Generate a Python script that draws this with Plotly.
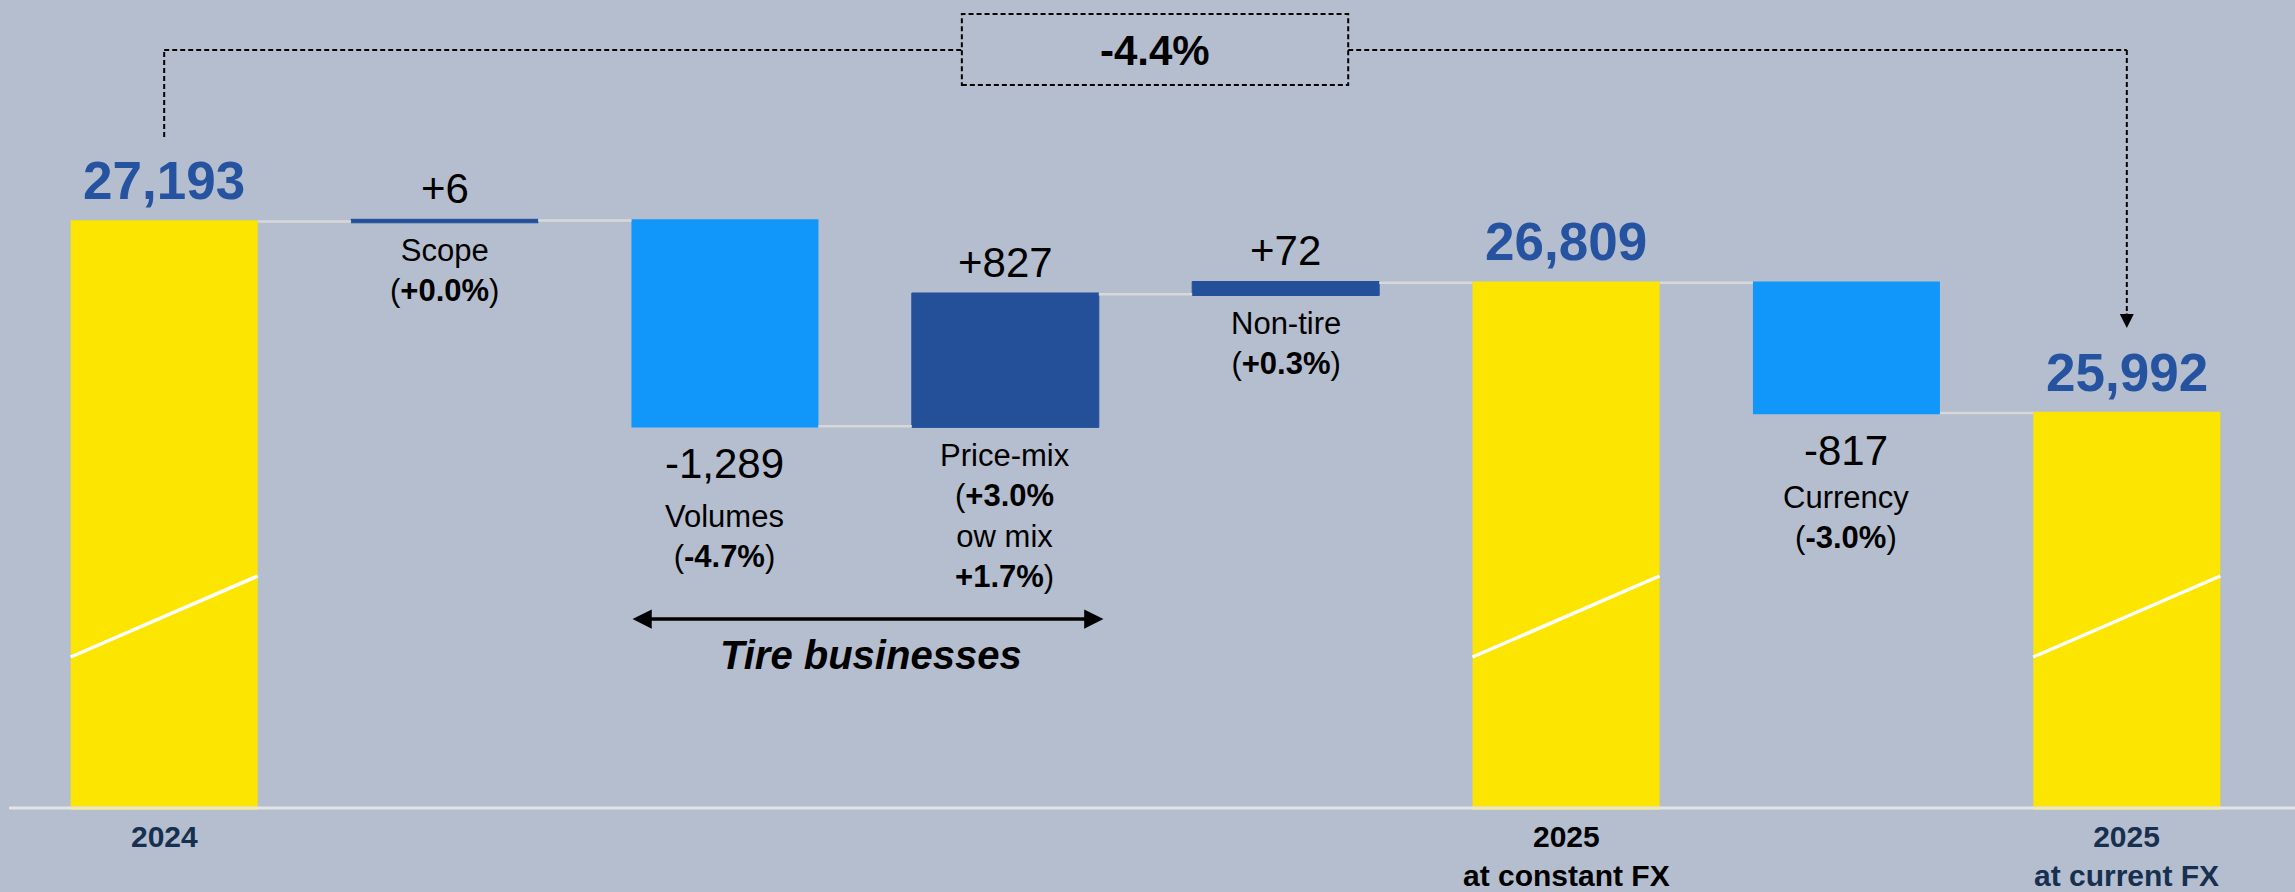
import plotly.graph_objects as go

# ---------------- data ----------------
categories = ["2024", "Scope", "Volumes", "Price-mix", "Non-tire",
              "2025 at constant FX", "Currency", "2025 at current FX"]
measures = ["absolute", "relative", "relative", "relative", "relative",
            "total", "relative", "total"]
values = [27193, 6, -1289, 827, 72, 26809, -817, 25992]
descriptions = [
    None,
    ["Scope", "(<b>+0.0%</b>)"],
    ["Volumes", "(<b>-4.7%</b>)"],
    ["Price-mix", "(<b>+3.0%</b>", "ow mix", "<b>+1.7%</b>)"],
    ["Non-tire", "(<b>+0.3%</b>)"],
    None,
    ["Currency", "(<b>-3.0%</b>)"],
    None,
]
tick_labels = ["2024", "", "", "", "", "2025<br>at constant FX", "", "2025<br>at current FX"]
tick_colors = ["#17304F", None, None, None, None, "#000000", None, "#17304F"]
group_label = "Tire businesses"
group_span = ["Volumes", "Price-mix"]

# ---------------- style ----------------
FONT = "Liberation Sans, Arial, sans-serif"
YELLOW = "#FCE500"
LIGHT_BLUE = "#1097F9"
DARK_BLUE = "#24509A"
LABEL_BLUE = "#2553A0"
BG = "#B5BECF"
W, H = 2295, 892
M_L, M_R, M_T, M_B = 24, 28, 0, 82
PLOT_H = H - M_T - M_B
Y_RANGE = [23503, 28582]
BAR_W = 0.667
DESC_SIZE = 31
LINE = 1.3 * DESC_SIZE
TICK_SIZE = 30
TICK_LINE = 1.3 * TICK_SIZE
desc_gap_neg = {"Volumes": 90, "Currency": 84}


def py(px):
    """pixel from top -> paper y"""
    return 1 - (px - M_T) / PLOT_H


# ---------------- running totals ----------------
starts, ends = [], []
level = 0
for m, v in zip(measures, values):
    if m == "absolute":
        s, e = 0, v
        level = v
    elif m == "relative":
        s, e = level, level + v
        level = e
    else:
        s, e = 0, level
    starts.append(s)
    ends.append(e)

fig = go.Figure()
fig.add_trace(go.Waterfall(
    x=categories, y=values, measure=measures,
    width=[BAR_W] * len(categories),
    increasing=dict(marker=dict(color=DARK_BLUE, line=dict(color=DARK_BLUE, width=1))),
    decreasing=dict(marker=dict(color=LIGHT_BLUE, line=dict(width=0))),
    totals=dict(marker=dict(color=YELLOW, line=dict(width=0))),
    connector=dict(mode="between", line=dict(color="#D8D8D8", width=2.5)),
    textinfo="none", hoverinfo="skip", showlegend=False,
))

annotations = []
shapes = []
for i, (cat, m, v) in enumerate(zip(categories, measures, values)):
    s, e = starts[i], ends[i]
    if m in ("absolute", "total"):
        annotations.append(dict(x=i, y=e, xref="x", yref="y", text=f"<b>{e:,}</b>",
                                showarrow=False, yanchor="middle", yshift=41,
                                font=dict(family=FONT, size=53, color=LABEL_BLUE)))
        # white break stripe
        shapes.append(dict(type="line", xref="x", yref="paper",
                           x0=i - BAR_W / 2, x1=i + BAR_W / 2,
                           y0=py(657), y1=py(576),
                           line=dict(color="white", width=3.5), layer="above"))
    else:
        top, bottom = max(s, e), min(s, e)
        if v >= 0:
            annotations.append(dict(x=i, y=top, xref="x", yref="y", text=f"{v:+,}",
                                    showarrow=False, yanchor="middle", yshift=32,
                                    font=dict(family=FONT, size=42, color="black")))
            gap = 29
        else:
            annotations.append(dict(x=i, y=bottom, xref="x", yref="y", text=f"{v:+,}",
                                    showarrow=False, yanchor="middle", yshift=-37,
                                    font=dict(family=FONT, size=42, color="black")))
            gap = desc_gap_neg.get(cat, 86)
        lines = descriptions[i]
        if lines:
            n = len(lines)
            annotations.append(dict(x=i, y=bottom, xref="x", yref="y",
                                    text="<br>".join(lines), showarrow=False,
                                    yanchor="middle", align="center",
                                    yshift=-(gap + (n - 1) * LINE / 2),
                                    font=dict(family=FONT, size=DESC_SIZE, color="black")))

# category tick labels
for i, (t, c) in enumerate(zip(tick_labels, tick_colors)):
    if not t:
        continue
    n = t.count("<br>") + 1
    annotations.append(dict(x=i, y=0, xref="x", yref="paper", text=f"<b>{t}</b>",
                            showarrow=False, yanchor="middle", align="center",
                            yshift=-(26 + (n - 1) * TICK_LINE / 2),
                            font=dict(family=FONT, size=TICK_SIZE, color=c)))

# tire businesses double arrow
i0 = categories.index(group_span[0])
i1 = categories.index(group_span[1])
annotations.append(dict(x=i1 + 0.35, y=py(619), xref="x", yref="paper",
                        ax=i0 - 0.335, ay=0, axref="x", ayref="pixel",
                        text="", showarrow=True, arrowside="end+start",
                        arrowhead=2, startarrowhead=2, arrowsize=1.1, startarrowsize=1.1,
                        arrowwidth=3.5, arrowcolor="black"))
annotations.append(dict(x=(i0 + i1) / 2 + 0.02, y=py(655), xref="x", yref="paper",
                        text=f"<b><i>{group_label}</i></b>", showarrow=False,
                        yanchor="middle", font=dict(family=FONT, size=40, color="black")))

# overall change bracket
first, last = 0, len(categories) - 1
change = (ends[last] / ends[first] - 1) * 100
box_l, box_r = 2.845, 4.223
dash = dict(color="black", width=2, dash="5px,3px")
shapes += [
    dict(type="line", xref="x", yref="paper", x0=first, x1=first, y0=py(137), y1=py(50), line=dash),
    dict(type="line", xref="x", yref="paper", x0=first, x1=box_l, y0=py(50), y1=py(50), line=dash),
    dict(type="rect", xref="x", yref="paper", x0=box_l, x1=box_r, y0=py(85), y1=py(14), line=dash),
    dict(type="line", xref="x", yref="paper", x0=box_r, x1=last, y0=py(50), y1=py(50), line=dash),
    dict(type="line", xref="x", yref="paper", x0=last, x1=last, y0=py(50), y1=py(314), line=dash),
]
annotations.append(dict(x=last, y=py(328), xref="x", yref="paper", ax=0, ay=-16,
                        text="", showarrow=True, arrowhead=2, arrowsize=1.4,
                        arrowwidth=2, arrowcolor="black"))
annotations.append(dict(x=(box_l + box_r) / 2, y=py(50), xref="x", yref="paper",
                        text=f"<b>{change:.1f}%</b>", showarrow=False, yanchor="middle",
                        font=dict(family=FONT, size=42, color="black")))

# baseline line
shapes.append(dict(type="line", xref="paper", yref="paper",
                   x0=(9 - M_L) / (W - M_L - M_R), x1=1.02, y0=py(808), y1=py(808),
                   line=dict(color="#E4E4E4", width=3), layer="above"))

fig.update_layout(
    width=W, height=H,
    margin=dict(l=M_L, r=M_R, t=M_T, b=M_B, pad=0),
    paper_bgcolor=BG, plot_bgcolor="rgba(0,0,0,0)",
    font=dict(family=FONT),
    xaxis=dict(type="category", categoryorder="array", categoryarray=categories,
               range=[-0.5, len(categories) - 0.5], showticklabels=False,
               showgrid=False, zeroline=False, showline=False, ticks="", fixedrange=True),
    yaxis=dict(range=Y_RANGE, visible=False, showgrid=False, zeroline=False, fixedrange=True),
    shapes=shapes, annotations=annotations,
    waterfallgap=1 - BAR_W,
)

fig.write_html(
    "out.html",
    config=dict(displayModeBar=False),
    post_script="document.body.style.margin='0';document.body.style.padding='0';"
                "document.body.style.overflow='hidden';",
)
